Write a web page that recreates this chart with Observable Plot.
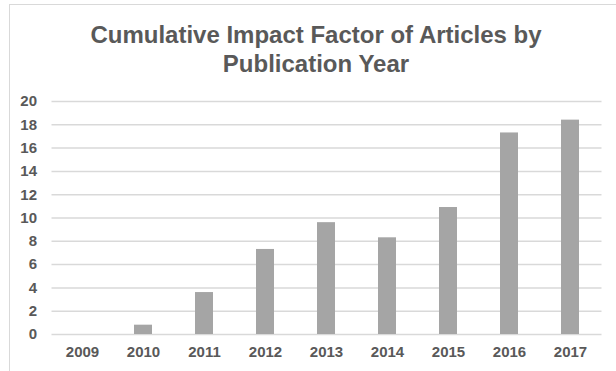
<!DOCTYPE html>
<html>
<head>
<meta charset="utf-8">
<script src="https://cdn.jsdelivr.net/npm/d3@7"></script>
<script src="https://cdn.jsdelivr.net/npm/@observablehq/plot@0.6"></script>
<style>
  html, body { margin: 0; padding: 0; background: #fff; width: 616px; height: 371px; overflow: hidden; }
  #frame { position: absolute; left: 9px; top: 4px; width: 700px; height: 500px; border: 1px solid #d9d9d9; box-sizing: border-box; }
  #title { position: absolute; left: 0; top: 20px; width: 632px; text-align: center;
    font: bold 24px/29px "Liberation Sans", Arial, sans-serif; color: #595959; margin: 0; }
  #chart { position: absolute; left: 0; top: 90px; }
  #chart svg text { font-family: "Liberation Sans", Arial, sans-serif; font-weight: bold; font-size: 15px; fill: #595959; }
</style>
</head>
<body>
<div id="frame"></div>
<h2 id="title">Cumulative Impact Factor of Articles by<br>Publication Year</h2>
<div id="chart"></div>
<script>
const years = ["2009", "2010", "2011", "2012", "2013", "2014", "2015", "2016", "2017"];
const values = [0, 0.8, 3.6, 7.3, 9.6, 8.3, 10.9, 17.3, 18.4];
const yTicks = [0, 2, 4, 6, 8, 10, 12, 14, 16, 18, 20];

const data = years.map((year, i) => ({year, value: values[i]}));

const plot = Plot.plot({
  width: 616,
  height: 281,
  marginTop: 11,
  marginBottom: 37,
  marginLeft: 51.5,
  marginRight: 14.5,
  style: {background: "transparent", color: "#595959", fontSize: "15px"},
  x: {domain: years, paddingInner: 0.7, paddingOuter: 0.35, align: 0.5, label: null, tickSize: 0, tickPadding: 12},
  y: {domain: [0, 20], ticks: yTicks, label: null, tickSize: 0, tickPadding: 15},
  marks: [
    Plot.gridY(yTicks, {stroke: "#d9d9d9", strokeOpacity: 1, strokeWidth: 1.5}),
    Plot.barY(data, {x: "year", y: "value", fill: "#a5a5a5"})
  ]
});
document.getElementById("chart").appendChild(plot);
</script>
</body>
</html>
